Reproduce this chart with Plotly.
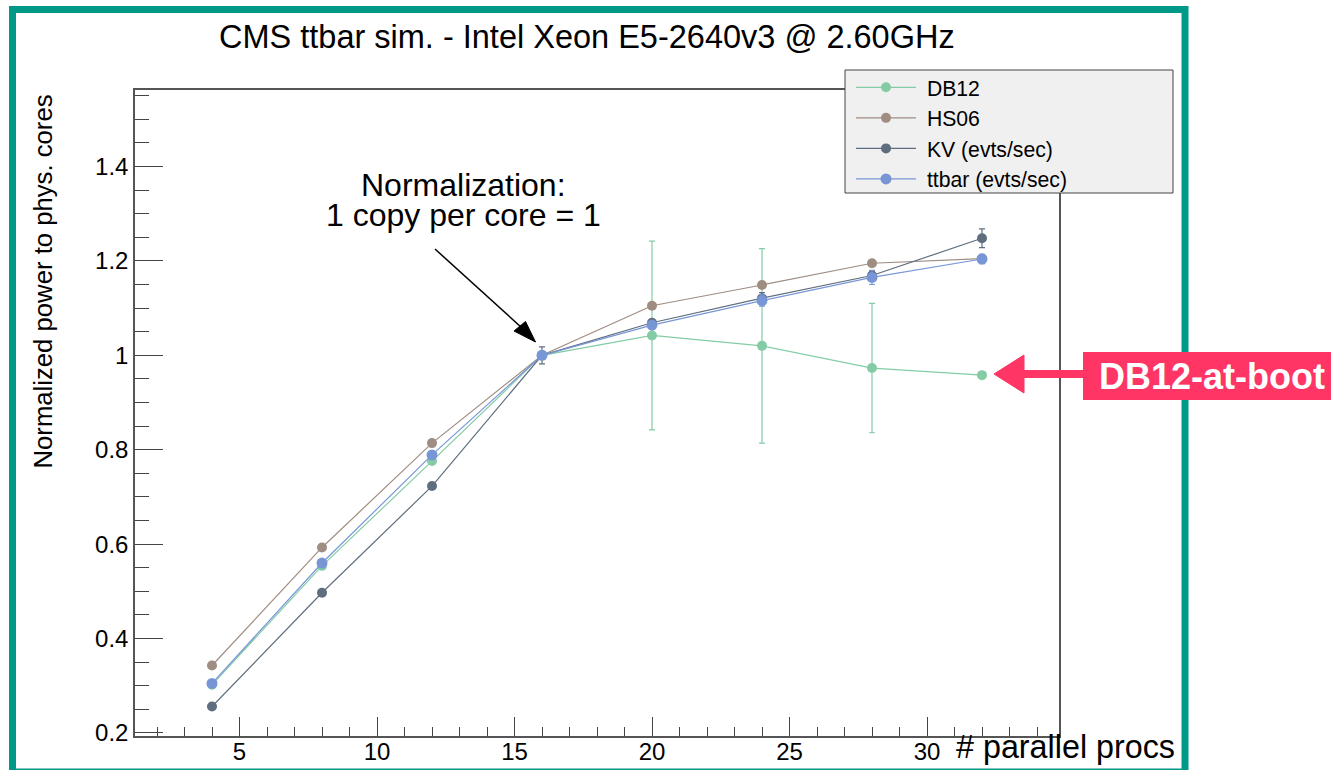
import plotly.graph_objects as go

# ---- data ----
procs = [4, 8, 12, 16, 20, 24, 28, 32]
db12 = [0.302, 0.554, 0.776, 1.0, 1.042, 1.020, 0.973, 0.958]
db12_err = [0, 0, 0, 0, 0.200, 0.206, 0.137, 0]
hs06 = [0.343, 0.593, 0.814, 1.0, 1.105, 1.149, 1.195, 1.205]
kv = [0.256, 0.497, 0.723, 1.0, 1.069, 1.121, 1.169, 1.248]
kv_err = [0.004, 0.004, 0.004, 0.018, 0.006, 0.012, 0.010, 0.020]
ttbar = [0.305, 0.560, 0.789, 1.0, 1.064, 1.116, 1.165, 1.204]
ttbar_err = [0.004, 0.004, 0.006, 0.006, 0.008, 0.012, 0.015, 0.010]

names = ["DB12", "HS06", "KV (evts/sec)", "ttbar (evts/sec)"]
colors = ["#84cca5", "#a08d82", "#5e6e7e", "#7896d6"]

W, H = 1331, 770
ML, MR, MT, MB = 135, 272, 90, 34
PW, PH = W - ML - MR, H - MT - MB


def px(x):
    return (x - ML) / PW


def py(y):
    return (H - MB - y) / PH


FONT = "Liberation Sans, Arial, sans-serif"

fig = go.Figure()
series = [(db12, db12_err), (hs06, None), (kv, kv_err), (ttbar, ttbar_err)]
for i, ((vals, err), name, col) in enumerate(zip(series, names, colors)):
    kw = {}
    if err is not None:
        kw["error_y"] = dict(type="data", array=err, visible=True, color=col,
                             thickness=1.2, width=3)
    fig.add_trace(go.Scatter(
        x=procs, y=vals, name="\u00a0" + name, mode="lines+markers",
        line=dict(color=col, width=1.2),
        marker=dict(color=col, size=10 if i < 3 else 11),
        legendgroup=name, **kw))

fig.update_layout(
    width=W, height=H, autosize=False,
    margin=dict(l=ML, r=MR, t=MT, b=MB, pad=0, autoexpand=False),
    paper_bgcolor="white", plot_bgcolor="white",
    font=dict(family=FONT, color="black"),
    showlegend=True,
    legend=dict(x=px(851), y=py(67), xanchor="left", yanchor="top",
                bgcolor="rgba(0,0,0,0)", borderwidth=0,
                font=dict(family=FONT, size=21.2, color="black"),
                itemwidth=60, tracegroupgap=0),
)

fig.update_xaxes(
    range=[1.2, 34.8], showgrid=False, zeroline=False, automargin=False,
    showline=True, linecolor="#555", linewidth=1.5, mirror=True,
    ticks="inside", ticklen=19, tickwidth=1.3, tickcolor="#444",
    tick0=0, dtick=5, ticklabelstandoff=-7,
    minor=dict(ticks="inside", ticklen=9, dtick=1, tick0=0, tickcolor="#444", tickwidth=1.3),
    tickfont=dict(family=FONT, size=24, color="black"),
)
fig.update_yaxes(
    range=[0.1936, 1.562], showgrid=False, zeroline=False, automargin=False,
    showline=True, linecolor="#555", linewidth=1.5, mirror=True,
    ticks="inside", ticklen=28, tickwidth=1.3, tickcolor="#444",
    tick0=0, dtick=0.2,
    minor=dict(ticks="inside", ticklen=14, dtick=0.05, tick0=0, tickcolor="#444", tickwidth=1.3),
    tickfont=dict(family=FONT, size=24, color="black"),
)

shapes = [
    # teal frame around the canvas
    dict(type="rect", xref="paper", yref="paper", x0=px(12.5), x1=px(1185),
         y0=py(772), y1=py(9.5), line=dict(color="#009886", width=7),
         fillcolor="rgba(0,0,0,0)", layer="above"),
    # legend box
    dict(type="rect", xref="paper", yref="paper", x0=px(845), x1=px(1173),
         y0=py(193), y1=py(70), line=dict(color="#444", width=1),
         fillcolor="#f0f0f0", layer="above"),
    # pink label box
    dict(type="rect", xref="paper", yref="paper", x0=px(1083), x1=px(1340),
         y0=py(400), y1=py(352), line=dict(width=0),
         fillcolor="#fe3565", layer="above"),
    # pink arrow shaft
    dict(type="line", xref="paper", yref="paper", x0=px(1018), x1=px(1086),
         y0=py(374), y1=py(374), line=dict(color="#fe3565", width=8), layer="above"),
    # pink arrow head
    dict(type="path", xref="paper", yref="paper",
         path=f"M{px(994)},{py(374)} L{px(1024)},{py(355)} L{px(1024)},{py(393)} Z",
         fillcolor="#fe3565", line=dict(color="#fe3565", width=1), layer="above"),
    # black arrow shaft
    dict(type="line", xref="paper", yref="paper", x0=px(435), x1=px(522),
         y0=py(249), y1=py(328), line=dict(color="black", width=1.5), layer="above"),
    # black arrow head
    dict(type="path", xref="paper", yref="paper",
         path=f"M{px(535.5)},{py(342)} L{px(514)},{py(331)} L{px(525.5)},{py(321.5)} Z",
         fillcolor="black", line=dict(color="black", width=1), layer="above"),
]
fig.update_layout(shapes=shapes)

annotations = [
    dict(text="CMS ttbar sim. - Intel Xeon E5-2640v3 @ 2.60GHz", x=px(587), y=py(37),
         font=dict(size=32.5)),
    dict(text="Normalized power to phys. cores", x=px(42), y=py(281.5), textangle=-90,
         font=dict(size=25.7)),
    dict(text="# parallel procs", x=px(1177), y=py(747), xanchor="right",
         font=dict(size=32.3)),
    dict(text="Normalization:", x=px(463), y=py(185), font=dict(size=32)),
    dict(text="1 copy per core = 1", x=px(463), y=py(215), font=dict(size=32)),
    dict(text="<b>DB12-at-boot</b>", x=px(1212), y=py(376),
         font=dict(size=36, color="white")),
]
for a in annotations:
    base = dict(xref="paper", yref="paper", showarrow=False,
                xanchor="center", yanchor="middle")
    base.update(a)
    base["font"] = dict(family=FONT, color=a["font"].get("color", "black"),
                        size=a["font"]["size"])
    fig.add_annotation(**base)

fig.write_html("out.html", config={"responsive": False, "displayModeBar": False},
               post_script="document.body.style.margin='0px';document.body.style.overflow='hidden';")
